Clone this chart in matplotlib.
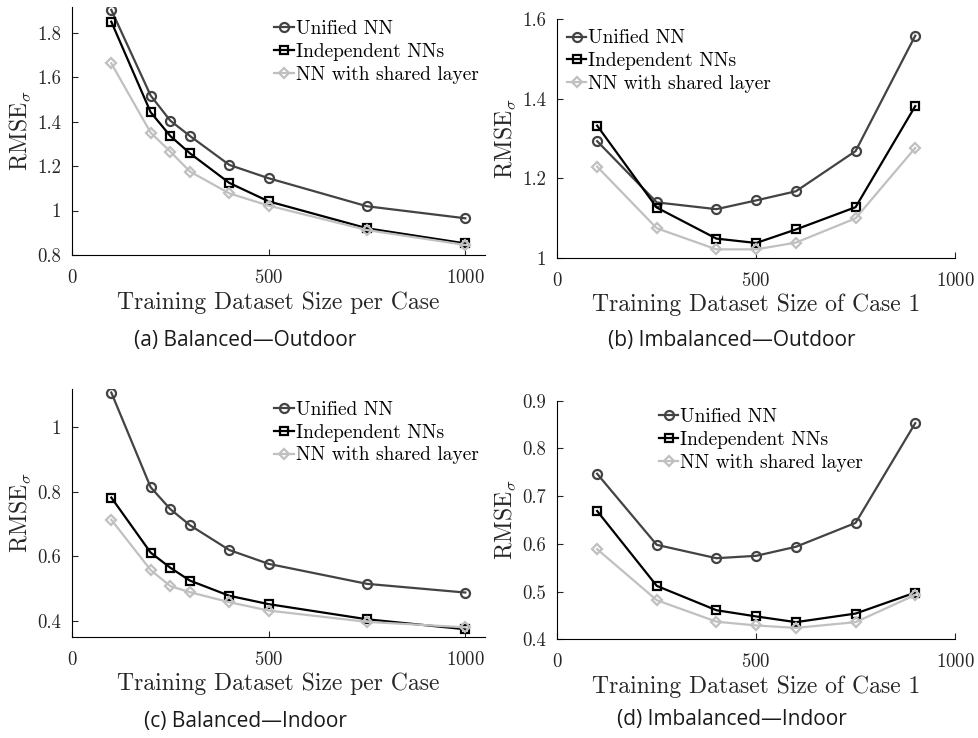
import matplotlib
matplotlib.use("Agg")
import matplotlib.pyplot as plt

plt.rcParams["font.family"] = "cmr10"
plt.rcParams["mathtext.fontset"] = "cm"
plt.rcParams["axes.formatter.use_mathtext"] = True

# ── data ──────────────────────────────────────────────────────
X_BAL = [100, 200, 250, 300, 400, 500, 750, 1000]
X_IMB = [100, 250, 400, 500, 600, 750, 900]

A_UNIFIED = [1.902, 1.517, 1.404, 1.335, 1.205, 1.145, 1.019, 0.965]
A_INDEP   = [1.849, 1.442, 1.335, 1.257, 1.124, 1.041, 0.920, 0.852]
A_SHARED  = [1.662, 1.350, 1.265, 1.175, 1.077, 1.022, 0.912, 0.845]

B_UNIFIED = [1.293, 1.139, 1.122, 1.144, 1.167, 1.268, 1.558]
B_INDEP   = [1.332, 1.126, 1.048, 1.037, 1.071, 1.127, 1.381]
B_SHARED  = [1.229, 1.074, 1.021, 1.021, 1.038, 1.099, 1.276]

C_UNIFIED = [1.108, 0.814, 0.746, 0.696, 0.619, 0.576, 0.514, 0.487]
C_INDEP   = [0.782, 0.611, 0.564, 0.524, 0.477, 0.451, 0.404, 0.373]
C_SHARED  = [0.713, 0.557, 0.507, 0.488, 0.457, 0.431, 0.396, 0.379]

D_UNIFIED = [0.747, 0.598, 0.570, 0.575, 0.594, 0.644, 0.853]
D_INDEP   = [0.669, 0.512, 0.461, 0.448, 0.436, 0.454, 0.498]
D_SHARED  = [0.589, 0.482, 0.437, 0.429, 0.424, 0.436, 0.493]

LABELS   = ["Unified NN", "Independent NNs", "NN with shared layer"]
CAPTIONS = ["(a) Balanced\u2014Outdoor", "(b) Imbalanced\u2014Outdoor",
            "(c) Balanced\u2014Indoor", "(d) Imbalanced\u2014Indoor"]
XLABELS  = ["Training Dataset Size per Case", "Training Dataset Size of Case 1"]

STYLES = [
    dict(color="#434343", marker="o", markersize=6.5),
    dict(color="#000000", marker="s", markersize=5.5),
    dict(color="#c0c0c0", marker="D", markersize=5),
]

fig = plt.figure(figsize=(9.79, 7.38), dpi=100)

panels = [
    # rect, x, series, xlim, ylim, yticks, xlabel, legend anchor (fig coords), caption pos (px)
    ([0.0735, 0.6545, 0.4219, 0.336], X_BAL, (A_UNIFIED, A_INDEP, A_SHARED), (0, 1050), (0.8, 1.915),
     [0.8, 1, 1.2, 1.4, 1.6, 1.8], XLABELS[0], (0.280, 0.973), (245, 340)),
    ([0.5693, 0.6508, 0.4062, 0.3235], X_IMB, (B_UNIFIED, B_INDEP, B_SHARED), (0, 1000), (1.0, 1.6),
     [1, 1.2, 1.4, 1.6], XLABELS[1], (0.579, 0.960), (732, 340)),
    ([0.0735, 0.1373, 0.4219, 0.3352], X_BAL, (C_UNIFIED, C_INDEP, C_SHARED), (0, 1050), (0.35, 1.118),
     [0.4, 0.6, 0.8, 1], XLABELS[0], (0.280, 0.457), (245, 721)),
    ([0.5693, 0.1337, 0.4062, 0.3233], X_IMB, (D_UNIFIED, D_INDEP, D_SHARED), (0, 1000), (0.4, 0.9),
     [0.4, 0.5, 0.6, 0.7, 0.8, 0.9], XLABELS[1], (0.673, 0.447), (732, 720)),
]

for i, (rect, xs, series, xlim, ylim, yticks, xlabel, leg_pos, cap_pos) in enumerate(panels):
    ax = fig.add_axes(rect)
    for ys, lbl, st in zip(series, LABELS, STYLES):
        ax.plot(xs, ys, linewidth=1.6, markerfacecolor="none", markeredgewidth=1.6,
                label=lbl, **st)
    ax.set_xlim(*xlim)
    ax.set_ylim(*ylim)
    ax.set_xticks([0, 500, 1000])
    ax.set_yticks(yticks)
    ax.set_yticklabels([f"{v:g}" for v in yticks])
    ax.spines["top"].set_visible(False)
    ax.spines["right"].set_visible(False)
    ax.tick_params(direction="in", length=4, labelsize=13.5, colors="#262626", pad=8)
    ax.tick_params(axis="x", pad=10)
    ax.set_xlabel(xlabel, fontsize=17, color="#262626", labelpad=3)
    ax.set_ylabel(r"RMSE$_\sigma$", fontsize=17, color="#262626", labelpad=3)
    ax.legend(loc="upper left", bbox_to_anchor=leg_pos, bbox_transform=fig.transFigure,
              frameon=False, fontsize=14, handlelength=1.0, handletextpad=0.1,
              labelspacing=0.25, borderpad=0, borderaxespad=0)
    fig.text(cap_pos[0] / 979, 1 - cap_pos[1] / 738, CAPTIONS[i], ha="center", va="center",
             fontsize=15, family="Open Sans", color="#1a1a1a")

plt.savefig("out.png", dpi=100)
